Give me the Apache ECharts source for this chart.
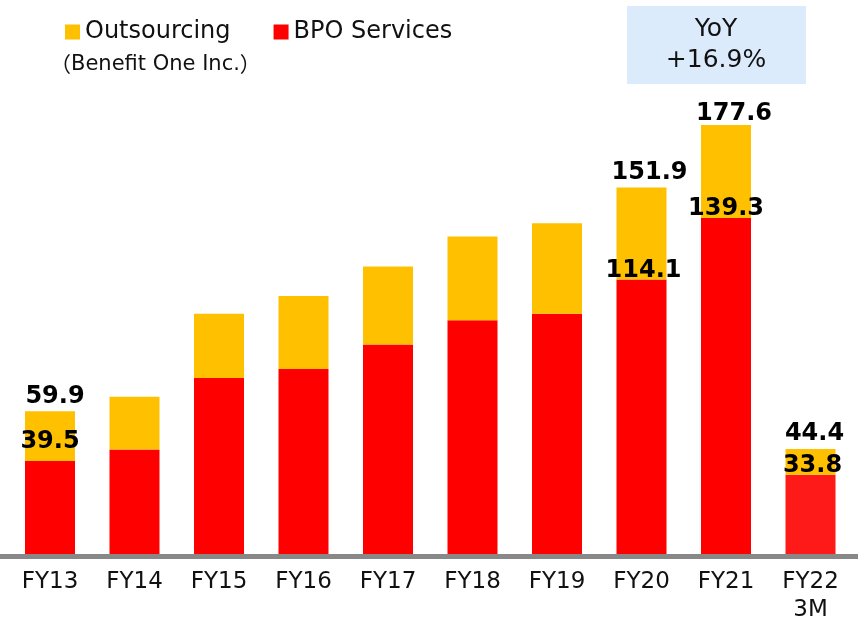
<!DOCTYPE html>
<html>
<head>
<meta charset="utf-8">
<script src="https://cdn.jsdelivr.net/npm/echarts@6/dist/echarts.min.js"></script>
<style>
  html, body { margin: 0; padding: 0; background: #fff; }
  #chart { width: 858px; height: 624px; }
</style>
</head>
<body>
<div id="chart"></div>
<script>
// 年度
const categories = ['FY13', 'FY14', 'FY15', 'FY16', 'FY17', 'FY18', 'FY19', 'FY20', 'FY21', 'FY22\n3M'];
// BPO Services (red)
const bpoValues = [39.5, 44.2, 73.6, 77.3, 87.3, 97.3, 100.0, 114.1, 139.3, 33.8];
// Outsourcing (yellow, stacked on top)
const outsourcingValues = [20.4, 21.7, 26.4, 30.0, 32.1, 34.4, 37.2, 37.8, 38.3, 10.6];
// bars that carry value labels
const labeledIndex = [0, 7, 8, 9];
const yoyText = 'YoY\n+16.9%';

// small label nudges per bar (layout only)
const bpoLabelTweak = { 0: { distance: 7 }, 7: { offset: [2, 0] }, 9: { offset: [2, 0] } };
const totalLabelTweak = { 0: { offset: [5, 0] }, 7: { offset: [8, 0] }, 8: { offset: [8, 0], distance: -1 }, 9: { offset: [4, 0] } };

const FONT = 'DejaVu Sans';
const chart = echarts.init(document.getElementById('chart'));

const bpoData = bpoValues.map((v, i) => {
  const item = { value: v, label: Object.assign({ show: labeledIndex.includes(i) }, bpoLabelTweak[i]) };
  if (i === categories.length - 1) item.itemStyle = { color: '#FF1A1A' }; // 3M bar is a bit lighter
  return item;
});
const outsourcingData = outsourcingValues.map((v, i) => ({
  value: v,
  label: Object.assign({ show: labeledIndex.includes(i) }, totalLabelTweak[i])
}));

const options = {
  animation: false,
  textStyle: { fontFamily: FONT },
  legend: {
    data: ['Outsourcing', 'BPO Services'],
    left: 60,
    top: 15,
    icon: 'rect',
    itemWidth: 15,
    itemHeight: 15,
    itemGap: 43,
    textStyle: { fontSize: 24, color: '#111', fontFamily: FONT }
  },
  title: {
    text: '{p|（}Benefit One Inc.{p|）}',
    left: 50,
    top: 54,
    padding: 0,
    textStyle: {
      fontSize: 21, fontWeight: 'normal', color: '#111', fontFamily: FONT,
      rich: { p: { fontSize: 21, color: '#111', fontFamily: 'Noto Sans CJK JP' } }
    }
  },
  graphic: [
    {
      type: 'rect',
      shape: { x: 627, y: 6, width: 179, height: 78 },
      style: { fill: '#DCEBFC' }
    },
    {
      type: 'text',
      x: 716,
      y: 45,
      style: {
        text: yoyText,
        fill: '#111',
        font: '25px "DejaVu Sans"',
        lineHeight: 31,
        align: 'center',
        verticalAlign: 'middle'
      }
    }
  ],
  grid: [
    { left: 7.75, right: 5.25, top: 94.76, bottom: 66.4 },
    { left: 0, right: 0, top: 94.76, bottom: 68 }
  ],
  xAxis: [
    {
      type: 'category',
      data: categories,
      axisLine: { show: false },
      axisTick: { show: false },
      axisLabel: { fontSize: 23, color: '#111', lineHeight: 28, margin: 11, fontFamily: FONT }
    },
    {
      type: 'category',
      gridIndex: 1,
      data: [''],
      z: 10,
      axisLine: { show: true, lineStyle: { color: '#888888', width: 5 } },
      axisTick: { show: false },
      axisLabel: { show: false }
    }
  ],
  yAxis: [
    { type: 'value', min: 0, max: 190, show: false, splitLine: { show: false } },
    { type: 'value', gridIndex: 1, min: 0, max: 190, show: false, splitLine: { show: false } }
  ],
  series: [
    {
      name: 'BPO Services',
      type: 'bar',
      stack: 'sales',
      barWidth: 50,
      itemStyle: { color: '#FF0000' },
      label: {
        position: 'top',
        distance: -3,
        fontSize: 24,
        fontWeight: 'bold',
        color: '#000',
        fontFamily: FONT,
        formatter: (p) => p.value.toFixed(1)
      },
      data: bpoData
    },
    {
      name: 'Outsourcing',
      type: 'bar',
      stack: 'sales',
      barWidth: 50,
      itemStyle: { color: '#FFC000' },
      label: {
        position: 'top',
        distance: 3,
        fontSize: 24,
        fontWeight: 'bold',
        color: '#000',
        fontFamily: FONT,
        // 合计 = BPO + Outsourcing
        formatter: (p) => (bpoValues[p.dataIndex] + p.value).toFixed(1)
      },
      data: outsourcingData
    }
  ]
};

chart.setOption(options);
</script>
</body>
</html>
